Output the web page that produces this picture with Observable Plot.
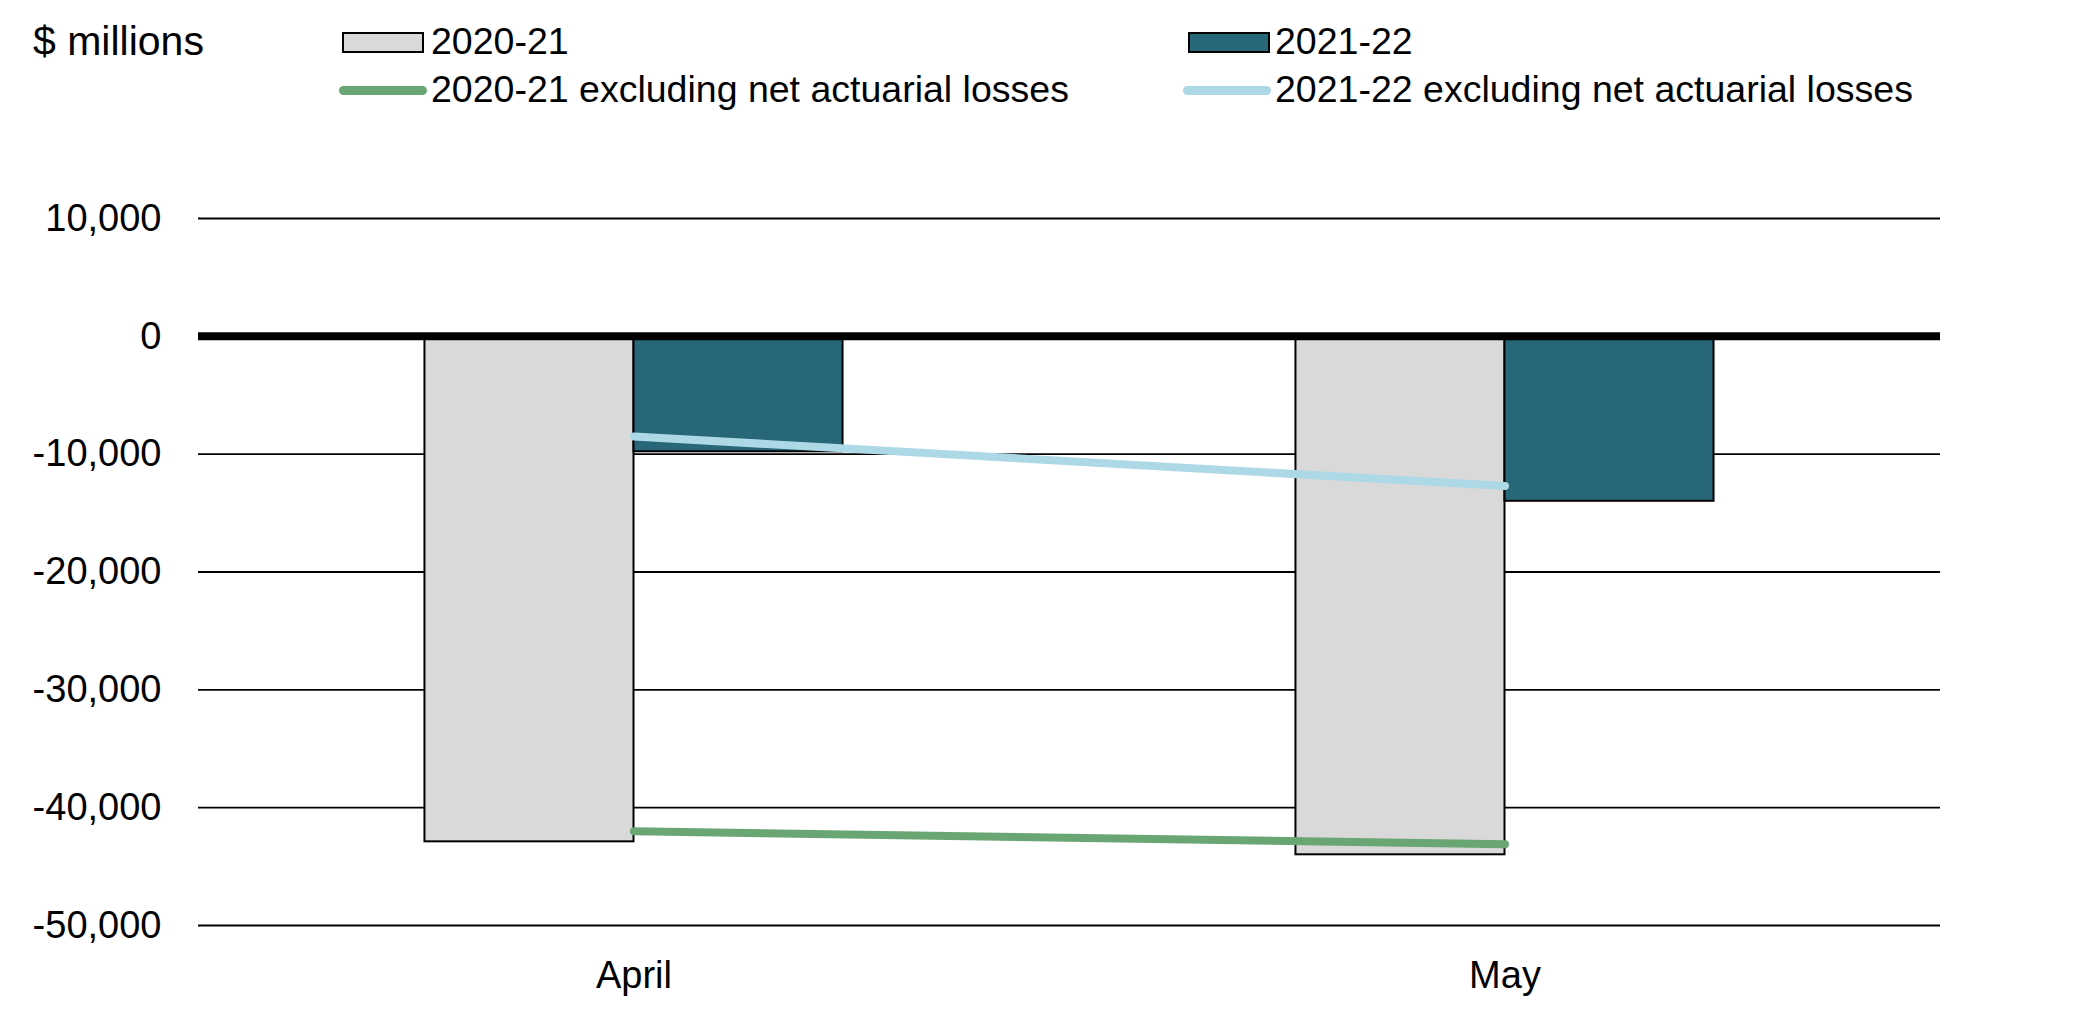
<!DOCTYPE html>
<html>
<head>
<meta charset="utf-8">
<script src="https://cdn.jsdelivr.net/npm/d3@7"></script>
<script src="https://cdn.jsdelivr.net/npm/@observablehq/plot@0.6"></script>
<style>
  body { margin: 0; background: #fff; font-family: "Liberation Sans", Arial, sans-serif; }
  #legend { position: relative; width: 2098px; height: 115px; font-size: 37.5px; color: #000; }
  #legend .txt { position: absolute; line-height: 38px; white-space: nowrap; }
  #legend .unit { font-size: 41px; line-height: 41px; }
  #legend .sw { position: absolute; box-sizing: border-box; }
  #chart svg { display: block; }
</style>
</head>
<body>
<div id="legend"></div>
<div id="chart"></div>
<script>
// ---- data ----
const months = ["April", "May"];
const barSeries = ["2020-21", "2021-22"];
const bars2020_21 = [-42900, -44000];
const bars2021_22 = [-9800, -14000];
const lineSeries = ["2020-21 excluding net actuarial losses", "2021-22 excluding net actuarial losses"];
const excl2020_21 = [-42000, -43100];
const excl2021_22 = [-8500, -12700];
const yTicks = [10000, 0, -10000, -20000, -30000, -40000, -50000];
const unitLabel = "$ millions";

// ---- colours ----
const grayFill = "#D9D9D9";
const tealFill = "#286778";
const greenLine = "#6AA574";
const blueLine = "#ADD8E6";

// ---- legend ----
const legend = document.getElementById("legend");
function addText(txt, left, centerY, cls) {
  const d = document.createElement("div");
  d.className = "txt" + (cls ? " " + cls : "");
  d.textContent = txt;
  d.style.left = left + "px";
  legend.appendChild(d);
  const h = d.getBoundingClientRect().height;
  d.style.top = (centerY - h / 2 - 1) + "px";
}
function addRect(left, centerY, color) {
  const d = document.createElement("div");
  d.className = "sw";
  d.style.left = left + "px";
  d.style.top = (centerY - 10.5) + "px";
  d.style.width = "82px";
  d.style.height = "21px";
  d.style.background = color;
  d.style.border = "2px solid #000";
  legend.appendChild(d);
}
function addLine(left, centerY, color) {
  const d = document.createElement("div");
  d.className = "sw";
  d.style.left = left + "px";
  d.style.top = (centerY - 4.5) + "px";
  d.style.width = "88px";
  d.style.height = "9px";
  d.style.borderRadius = "4.5px";
  d.style.background = color;
  legend.appendChild(d);
}
addText(unitLabel, 33, 42, "unit");
const colX = [342, 1188];
const rowY = [42, 90];
addRect(colX[0], rowY[0], grayFill); addText(barSeries[0], colX[0] + 89, rowY[0]);
addRect(colX[1], rowY[0], tealFill); addText(barSeries[1], colX[1] + 87, rowY[0]);
addLine(colX[0] - 3, rowY[1], greenLine); addText(lineSeries[0], colX[0] + 89, rowY[1]);
addLine(colX[1] - 5, rowY[1], blueLine); addText(lineSeries[1], colX[1] + 87, rowY[1]);

// ---- chart ----
const width = 2098, height = 904;
const ml = 198, mr = 158, mt = 103, mb = 94;
const pIn = 0.52, pOut = 0.26;
const step = (width - ml - mr) / (months.length - pIn + 2 * pOut);
const half = step * (1 - pIn) / 2;

const barData = months.map((m, i) => ({month: m, a: bars2020_21[i], b: bars2021_22[i]}));
const line1 = months.map((m, i) => ({month: m, v: excl2020_21[i]}));
const line2 = months.map((m, i) => ({month: m, v: excl2021_22[i]}));

const chart = Plot.plot({
  width, height,
  marginLeft: ml, marginRight: mr, marginTop: mt, marginBottom: mb,
  style: {fontFamily: "'Liberation Sans', Arial, sans-serif", fontSize: "38px", color: "#000", background: "#fff"},
  x: {domain: months, paddingInner: pIn, paddingOuter: pOut, round: false},
  y: {domain: [-50000, 10000]},
  marks: [
    Plot.ruleY(yTicks.filter(t => t !== 0), {stroke: "#000", strokeWidth: 1.8}),
    Plot.barY(barData, {x: "month", y: "a", fill: grayFill, stroke: "#000", strokeWidth: 2, insetRight: half}),
    Plot.barY(barData, {x: "month", y: "b", fill: tealFill, stroke: "#000", strokeWidth: 2, insetLeft: half}),
    Plot.ruleY([0], {stroke: "#000", strokeWidth: 8}),
    Plot.line(line1, {x: "month", y: "v", stroke: greenLine, strokeWidth: 8, strokeLinecap: "round"}),
    Plot.line(line2, {x: "month", y: "v", stroke: blueLine, strokeWidth: 8, strokeLinecap: "round"}),
    Plot.axisY({ticks: yTicks, tickSize: 0, tickPadding: 37, tickFormat: d => d.toLocaleString("en-US"), label: null}),
    Plot.axisX({tickSize: 0, tickPadding: 36, label: null})
  ]
});
document.getElementById("chart").appendChild(chart);
</script>
</body>
</html>
